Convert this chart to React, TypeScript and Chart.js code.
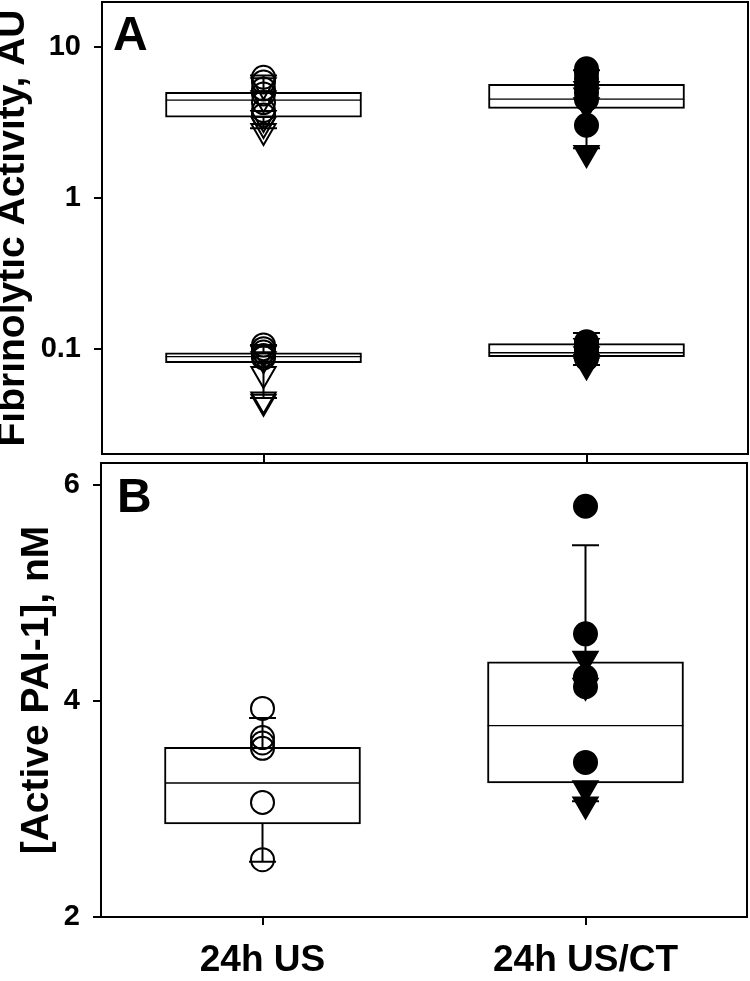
import React, { useEffect, useRef } from 'react';
import { Chart, registerables } from 'chart.js';

Chart.register(...registerables);

// ---------- data ----------
const categories = ['24h US', '24h US/CT'];

// Panel A: fibrinolytic activity (AU), logarithmic axis
const fibTickValues = [0.1, 1, 10];
const fibTitle = 'Fibrinolytic Activity, AU';
// upper group of boxes
const fibHiQ1 = [3.44, 3.94];
const fibHiMed = [4.46, 4.53];
const fibHiQ3 = [5.03, 5.69];
const fibHiLow = [2.91, 2.14];
const fibHiHigh = [6.5, 7.05];
const fibHiCirclesUS = [6.33, 5.9, 5.3, 4.9, 4.3, 3.8, 3.55];
const fibHiTrianglesUS = [5.6, 4.6, 3.4, 3.1, 2.78];
const fibHiCirclesCT = [7.2, 6.8, 6.2, 5.6, 5.0, 4.5, 3.04];
const fibHiTrianglesCT = [5.3, 4.8, 4.13, 1.99];
// lower group of boxes
const fibLoQ1 = [0.0807, 0.0885];
const fibLoMed = [0.0885, 0.094];
const fibLoQ3 = [0.094, 0.108];
const fibLoLow = [0.047, 0.078];
const fibLoHigh = [0.106, 0.127];
const fibLoCirclesUS = [0.106, 0.1, 0.095, 0.09, 0.087];
const fibLoTrianglesUS = [0.093, 0.085, 0.068, 0.046, 0.0445];
const fibLoCirclesCT = [0.111, 0.106, 0.1, 0.095, 0.09, 0.086];
const fibLoTrianglesCT = [0.104, 0.092, 0.082, 0.0776];

// Panel B: active PAI-1 (nM), linear axis
const paiTickValues = [2, 4, 6];
const paiTitle = '[Active PAI-1], nM';
const paiQ1 = [2.86, 3.24];
const paiMed = [3.24, 3.77];
const paiQ3 = [3.57, 4.36];
const paiLow = [2.51, 3.07];
const paiHigh = [3.84, 5.44];
const paiCirclesUS = [3.93, 3.66, 3.61, 3.56, 3.06, 2.53];
const paiTrianglesUS: number[] = [];
const paiCirclesCT = [5.8, 4.62, 4.22, 4.13, 3.43];
const paiTrianglesCT = [4.39, 4.14, 3.19, 3.04];

// ---------- styles ----------
const FONT = '"Liberation Sans", Arial, Helvetica, sans-serif';
const BOX_WIDTH = 196;
const CIRCLE_R = 11.5;
const TRI_R = 14;
const CAP_R = 13.5;

function boxDatasets(q1: number[], med: number[], q3: number[]) {
  const common = {
    type: 'bar' as const,
    backgroundColor: '#ffffff',
    borderColor: '#000000',
    borderSkipped: false,
    grouped: false,
    barPercentage: 1,
    categoryPercentage: 1,
    maxBarThickness: BOX_WIDTH,
    order: 3,
  };
  return [
    { ...common, data: categories.map((_, i) => [q1[i], med[i]]), borderWidth: { top: 1, bottom: 2, left: 2, right: 2 } },
    { ...common, data: categories.map((_, i) => [med[i], q3[i]]), borderWidth: { top: 2, bottom: 1, left: 2, right: 2 } },
  ];
}

function whiskerDatasets(q1: number[], q3: number[], low: number[], high: number[]) {
  const out: any[] = [];
  categories.forEach((cat, i) => {
    [[q3[i], high[i]], [q1[i], low[i]]].forEach(([from, to]) => {
      out.push({
        type: 'line',
        data: [{ x: cat, y: from }, { x: cat, y: to }],
        borderColor: '#000000',
        borderWidth: 2,
        fill: false,
        pointStyle: 'line',
        pointRadius: [0, CAP_R],
        pointBorderColor: '#000000',
        pointBorderWidth: 2,
        order: 2,
      });
    });
  });
  return out;
}

function pointDataset(catIndex: number, values: number[], style: 'circle' | 'triangle', filled: boolean) {
  return {
    type: 'line' as const,
    showLine: false,
    data: values.map((v) => ({ x: categories[catIndex], y: v })),
    pointStyle: style,
    pointRadius: style === 'triangle' ? TRI_R : CIRCLE_R,
    pointRotation: style === 'triangle' ? 180 : 0,
    pointBackgroundColor: filled ? '#000000' : 'rgba(0,0,0,0)',
    pointBorderColor: '#000000',
    pointBorderWidth: 2,
    order: 1,
  };
}

function framePlugin(letter: string, dx: number, dy: number) {
  return {
    id: 'frame' + letter,
    afterDraw(chart: any) {
      const { ctx, chartArea } = chart;
      ctx.save();
      ctx.strokeStyle = '#000';
      ctx.lineWidth = 2;
      ctx.strokeRect(chartArea.left, chartArea.top, chartArea.right - chartArea.left, chartArea.bottom - chartArea.top);
      ctx.fillStyle = '#000';
      ctx.font = `bold 48px ${FONT}`;
      ctx.textBaseline = 'alphabetic';
      ctx.textAlign = 'left';
      ctx.fillText(letter, chartArea.left + dx, chartArea.top + dy);
      ctx.restore();
    },
  };
}

function makeConfig(opts: {
  datasets: any[];
  yType: 'logarithmic' | 'linear';
  yMin: number;
  yMax: number;
  yTicks: number[];
  title: string;
  titleOffset: number;
  showXLabels: boolean;
  padding: any;
  yWidth: number;
  xHeight: number;
  letter: string;
  letterDx: number;
  letterDy: number;
}): any {
  return {
    type: 'bar',
    data: { labels: categories, datasets: opts.datasets },
    plugins: [framePlugin(opts.letter, opts.letterDx, opts.letterDy)],
    options: {
      responsive: false,
      animation: false,
      devicePixelRatio: 1,
      layout: { padding: opts.padding, autoPadding: false },
      plugins: { legend: { display: false }, tooltip: { enabled: false } },
      scales: {
        x: {
          type: 'category',
          offset: true,
          border: { display: false },
          grid: { offset: false, drawOnChartArea: false, drawTicks: true, tickLength: 8, color: '#000', lineWidth: 2 },
          ticks: {
            display: opts.showXLabels,
            color: '#000',
            padding: 14,
            maxRotation: 0,
            font: { family: FONT, size: 37, weight: 'bold' },
          },
          afterFit: (scale: any) => {
            scale.height = opts.xHeight;
            scale.paddingLeft = 0;
            scale.paddingRight = 0;
          },
        },
        y: {
          type: opts.yType,
          min: opts.yMin,
          max: opts.yMax,
          border: { display: false },
          grid: { drawOnChartArea: false, drawTicks: true, tickLength: 8, color: '#000', lineWidth: 2 },
          afterBuildTicks: (scale: any) => {
            scale.ticks = opts.yTicks.map((v) => ({ value: v }));
          },
          ticks: {
            color: '#000',
            padding: 13,
            font: { family: FONT, size: 29, weight: 'bold' },
            callback: (v: any) => String(v),
          },
          title: {
            display: true,
            text: opts.title,
            color: '#000',
            font: { family: FONT, size: 39, weight: 'bold', lineHeight: 1 },
            padding: { top: opts.titleOffset, bottom: 0 },
          },
          afterFit: (scale: any) => {
            scale.width = opts.yWidth;
            scale.paddingTop = 0;
            scale.paddingBottom = 0;
          },
        },
      },
    },
  };
}

const datasetsA = [
  ...boxDatasets(fibHiQ1, fibHiMed, fibHiQ3),
  ...boxDatasets(fibLoQ1, fibLoMed, fibLoQ3),
  ...whiskerDatasets(fibHiQ1, fibHiQ3, fibHiLow, fibHiHigh),
  ...whiskerDatasets(fibLoQ1, fibLoQ3, fibLoLow, fibLoHigh),
  pointDataset(0, fibHiCirclesUS, 'circle', false),
  pointDataset(0, fibHiTrianglesUS, 'triangle', false),
  pointDataset(0, fibLoCirclesUS, 'circle', false),
  pointDataset(0, fibLoTrianglesUS, 'triangle', false),
  pointDataset(1, fibHiCirclesCT, 'circle', true),
  pointDataset(1, fibHiTrianglesCT, 'triangle', true),
  pointDataset(1, fibLoCirclesCT, 'circle', true),
  pointDataset(1, fibLoTrianglesCT, 'triangle', true),
];

const datasetsB = [
  ...boxDatasets(paiQ1, paiMed, paiQ3),
  ...whiskerDatasets(paiQ1, paiQ3, paiLow, paiHigh),
  pointDataset(0, paiCirclesUS, 'circle', false),
  pointDataset(0, paiTrianglesUS, 'triangle', false),
  pointDataset(1, paiCirclesCT, 'circle', true),
  pointDataset(1, paiTrianglesCT, 'triangle', true),
];

export default function App() {
  const refA = useRef<HTMLCanvasElement>(null);
  const refB = useRef<HTMLCanvasElement>(null);

  useEffect(() => {
    const chartA = new Chart(
      refA.current as HTMLCanvasElement,
      makeConfig({
        datasets: datasetsA,
        yType: 'logarithmic',
        yMin: 0.02,
        yMax: 20,
        yTicks: fibTickValues,
        title: fibTitle,
        titleOffset: -6.5,
        showXLabels: false,
        padding: { top: 2, right: 2, left: 0, bottom: 0 },
        yWidth: 102,
        xHeight: 16,
        letter: 'A',
        letterDx: 11,
        letterDy: 48,
      })
    );
    const chartB = new Chart(
      refB.current as HTMLCanvasElement,
      makeConfig({
        datasets: datasetsB,
        yType: 'linear',
        yMin: 2,
        yMax: 6.2,
        yTicks: paiTickValues,
        title: paiTitle,
        titleOffset: 17.5,
        showXLabels: true,
        padding: { top: 3, right: 3, left: 0, bottom: 0 },
        yWidth: 101,
        xHeight: 64,
        letter: 'B',
        letterDx: 16,
        letterDy: 49,
      })
    );
    return () => {
      chartA.destroy();
      chartB.destroy();
    };
  }, []);

  return (
    <div style={{ position: 'absolute', left: 0, top: 0, width: 750, height: 981, background: '#ffffff' }}>
      <canvas ref={refA} width={750} height={470} style={{ position: 'absolute', left: 0, top: 0 }} />
      <canvas ref={refB} width={750} height={521} style={{ position: 'absolute', left: 0, top: 460 }} />
    </div>
  );
}
